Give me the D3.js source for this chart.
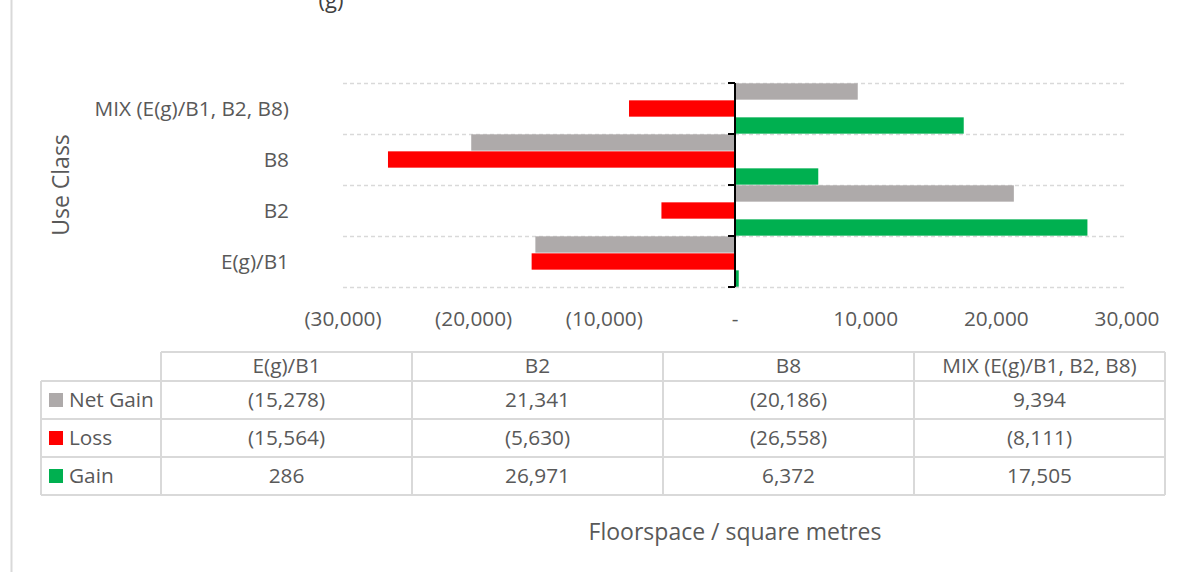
<!DOCTYPE html>
<html><head><meta charset="utf-8">
<script src="https://cdn.jsdelivr.net/npm/d3@7"></script>
<style>
html,body{margin:0;padding:0;background:#fff;}
svg{display:block;font-family:"Open Sans",Lato,sans-serif;}
</style></head>
<body>
<svg id="c" width="1182" height="572"></svg>
<script>
const categories = ["E(g)/B1", "B2", "B8", "MIX (E(g)/B1, B2, B8)"];
const seriesNames = ["Net Gain", "Loss", "Gain"];
const netGain = [-15278, 21341, -20186, 9394];
const loss = [-15564, -5630, -26558, -8111];
const gain = [286, 26971, 6372, 17505];
const xTicks = [-30000, -20000, -10000, 0, 10000, 20000, 30000];
const colors = ["#AEAAAA", "#FF0000", "#00B050"];
const seriesValues = [netGain, loss, gain];

const svg = d3.select("#c");
const textCol = "#595959";
const fs = 20.8;
const fmt = v => v === 0 ? "-" : (v < 0 ? "(" + d3.format(",")(-v) + ")" : d3.format(",")(v));

// left frame line
svg.append("line").attr("x1", 11.5).attr("x2", 11.5).attr("y1", 0).attr("y2", 572)
  .attr("stroke", "#d9d9d9").attr("stroke-width", 2);

// partial title
svg.append("text").attr("x", 331).attr("y", 8).attr("text-anchor", "middle")
  .attr("font-size", 22).attr("fill", "#404040").text("(g)");

const x = d3.scaleLinear().domain([-30000, 30000]).range([343, 1127]);
const y = d3.scaleBand().domain(categories.slice().reverse()).range([83, 287]).padding(0);
const inner = d3.scaleBand().domain(seriesNames).range([0, y.bandwidth()]).paddingInner(0.04).paddingOuter(0.02);

// gridlines at band boundaries
const bounds = categories.slice().reverse().map(c => y(c)).concat([y.range()[1]]);
svg.append("g").selectAll("line").data(bounds).join("line")
  .attr("x1", x(-30000)).attr("x2", x(30000))
  .attr("y1", d => d + 0.5).attr("y2", d => d + 0.5)
  .attr("stroke", "#d9d9d9").attr("stroke-width", 1.3).attr("stroke-dasharray", "4,3");

// bars
const bars = [];
categories.forEach((c, i) => {
  seriesNames.forEach((s, j) => {
    bars.push({c, s, v: seriesValues[j][i], col: colors[j]});
  });
});
svg.append("g").selectAll("rect").data(bars).join("rect")
  .attr("x", d => Math.min(x(0), x(d.v)))
  .attr("width", d => Math.abs(x(d.v) - x(0)))
  .attr("y", d => y(d.c) + inner(d.s))
  .attr("height", inner.bandwidth())
  .attr("fill", d => d.col);

// vertical axis at zero
const axisG = svg.append("g").attr("transform", `translate(${x(0)},0)`);
axisG.append("line").attr("x1", 0).attr("x2", 0).attr("y1", y.range()[0]).attr("y2", y.range()[1])
  .attr("stroke", "#000").attr("stroke-width", 2);
axisG.selectAll("line.tk").data(bounds).join("line").attr("class", "tk")
  .attr("x1", -7).attr("x2", 0).attr("y1", d => d).attr("y2", d => d)
  .attr("stroke", "#000").attr("stroke-width", 2);

// category labels
svg.append("g").selectAll("text").data(categories).join("text")
  .attr("x", 289).attr("y", d => y(d) + y.bandwidth() / 2 + 7)
  .attr("text-anchor", "end").attr("font-size", fs).attr("fill", textCol).text(d => d);

// y title
svg.append("text").attr("transform", "translate(69,185) rotate(-90)")
  .attr("text-anchor", "middle").attr("font-size", 23).attr("fill", textCol).text("Use Class");

// x tick labels
svg.append("g").selectAll("text").data(xTicks).join("text")
  .attr("x", d => x(d)).attr("y", 326).attr("text-anchor", "middle")
  .attr("font-size", fs).attr("fill", textCol).text(d => fmt(d));

// data table
const colX = [41, 161, 412, 663, 914, 1165];
const rowY = [352, 381, 419, 457, 495];
const tg = svg.append("g").attr("stroke", "#d9d9d9").attr("stroke-width", 2);
tg.append("line").attr("x1", colX[1]).attr("x2", colX[5]).attr("y1", rowY[0]).attr("y2", rowY[0]);
rowY.slice(1).forEach(yy => tg.append("line").attr("x1", colX[0]).attr("x2", colX[5]).attr("y1", yy).attr("y2", yy));
colX.forEach((xx, i) => tg.append("line").attr("x1", xx).attr("x2", xx)
  .attr("y1", i === 0 ? rowY[1] : rowY[0]).attr("y2", rowY[4]));

// headers
categories.forEach((c, i) => {
  svg.append("text").attr("x", (colX[i + 1] + colX[i + 2]) / 2).attr("y", 373)
    .attr("text-anchor", "middle").attr("font-size", fs).attr("fill", textCol).text(c);
});
// rows
seriesNames.forEach((s, j) => {
  const cy = (rowY[j + 1] + rowY[j + 2]) / 2;
  svg.append("rect").attr("x", 49).attr("y", cy - 7).attr("width", 14).attr("height", 14).attr("fill", colors[j]);
  svg.append("text").attr("x", 69).attr("y", cy + 7).attr("font-size", fs).attr("fill", textCol).text(s);
  categories.forEach((c, i) => {
    svg.append("text").attr("x", (colX[i + 1] + colX[i + 2]) / 2).attr("y", cy + 7)
      .attr("text-anchor", "middle").attr("font-size", fs).attr("fill", textCol).text(fmt(seriesValues[j][i]));
  });
});

// x title
svg.append("text").attr("x", 735).attr("y", 540).attr("text-anchor", "middle")
  .attr("font-size", 23).attr("fill", textCol).text("Floorspace / square metres");
</script>
</body></html>
